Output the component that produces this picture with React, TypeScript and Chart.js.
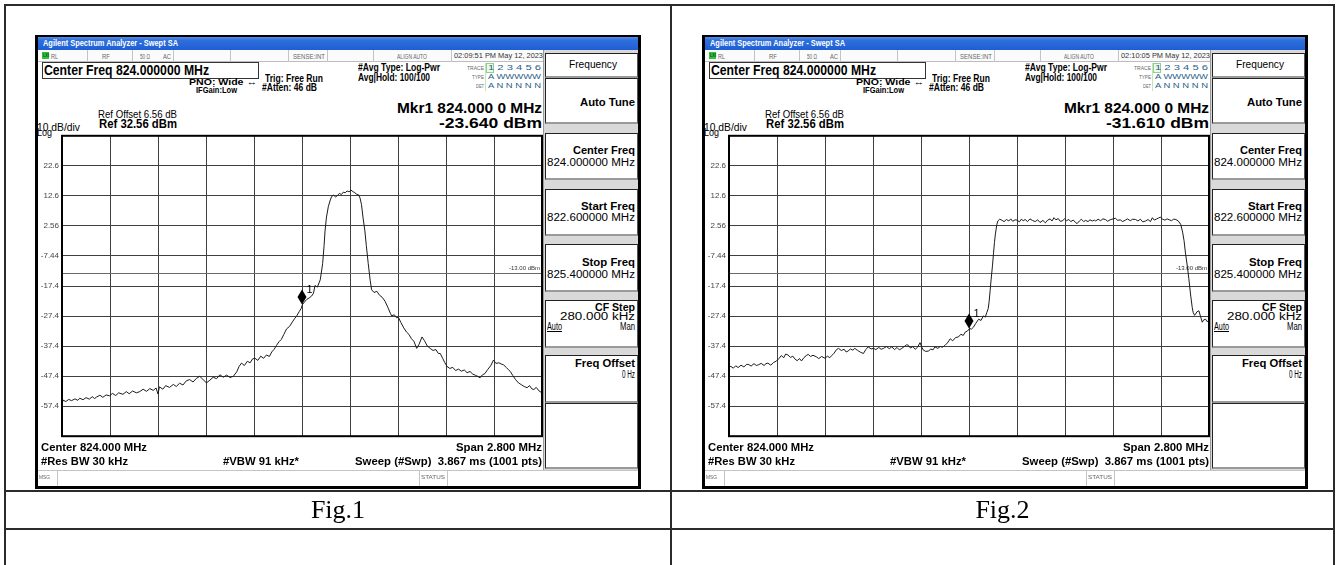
import React, { useEffect, useLayoutEffect, useRef } from "react";
import { Chart, registerables } from "chart.js";

Chart.register(...registerables);

const FONT = '"Liberation Sans", Arial, sans-serif';
const SERIF = '"Liberation Serif", "Times New Roman", serif';

// Sweep axis: trace point index (1001 pts), 10 divisions
const X_MIN = 0;
const X_MAX = 1000;
const X_DIV = 100;

// Amplitude axis
const REF_LEVEL = 32.56;
const DB_PER_DIV = 10;
const Y_DIVS = 10;
const Y_TICK_LABELS = ["22.6", "12.6", "2.56", "-7.44", "-17.4", "-27.4", "-37.4", "-47.4", "-57.4"];

const DISPLAY_LINE = -13;
const DISPLAY_LINE_LABEL = "-13.00 dBm";

// [point index, dBm]
const FIG1_TRACE: [number, number][] = [
  [0, -55.8], [2, -55.4], [8, -55.9], [14, -55.2], [20, -55.6], [27, -55.0], [33, -55.5], [37, -54.8], [44, -55.3], [50, -54.6],
  [57, -55.1], [63, -54.3], [68, -54.9], [72, -54.4], [79, -53.8], [85, -54.5], [92, -53.7], [99, -54.0], [105, -53.2], [112, -53.9],
  [118, -53.0], [127, -53.5], [134, -52.6], [140, -53.3], [147, -52.4], [155, -53.0], [162, -52.6], [169, -51.8], [176, -52.5], [183, -51.6],
  [190, -52.2], [196, -51.4], [200, -53.4], [203, -51.0], [210, -51.8], [216, -50.6], [224, -51.2], [232, -50.2], [238, -50.9], [245, -49.8],
  [252, -50.4], [259, -49.0], [266, -48.6], [273, -49.4], [280, -48.2], [287, -47.5], [294, -48.6], [301, -49.7], [308, -48.8], [315, -47.8],
  [322, -48.3], [329, -47.0], [336, -47.8], [343, -47.1], [350, -47.9], [357, -47.5], [364, -46.0], [369, -44.2], [374, -43.1], [380, -43.9],
  [386, -42.5], [392, -43.0], [397, -41.7], [402, -41.5], [408, -42.2], [414, -40.8], [420, -41.5], [426, -40.4], [432, -40.9], [437, -39.4],
  [442, -38.5], [447, -37.2], [452, -36.0], [457, -35.2], [462, -33.6], [468, -31.7], [474, -30.9], [480, -29.4], [485, -28.2], [489, -27.4],
  [494, -26.0], [498, -25.0], [501, -23.64], [505, -22.8], [510, -21.9], [515, -21.4], [520, -20.8], [524, -19.8], [527, -17.3], [532, -17.8],
  [538, -15.4], [543, -10.0], [546, -4.0], [548, 0.9], [551, 5.5], [555, 9.1], [559, 11.2], [562, 12.4], [566, 12.8], [570, 12.2],
  [574, 12.7], [578, 13.4], [582, 13.0], [586, 13.8], [590, 13.6], [594, 14.2], [598, 13.9], [602, 14.5], [606, 14.0], [610, 13.6],
  [614, 13.1], [618, 12.9], [621, 11.8], [624, 9.6], [627, 5.5], [631, 0.9], [634, -4.0], [638, -10.0], [642, -15.5], [645, -18.7],
  [650, -19.6], [656, -19.2], [661, -20.4], [667, -21.2], [673, -22.5], [679, -24.6], [684, -26.5], [687, -27.4], [692, -27.0], [697, -28.0],
  [701, -27.9], [706, -29.6], [712, -31.4], [718, -32.8], [723, -33.6], [728, -35.0], [733, -35.8], [739, -38.2], [744, -36.8], [750, -34.4],
  [755, -35.6], [761, -37.4], [767, -38.2], [773, -38.9], [779, -38.6], [784, -39.9], [788, -39.9], [793, -41.5], [797, -42.8], [802, -44.2],
  [808, -44.9], [814, -44.5], [820, -45.6], [826, -45.1], [832, -45.8], [838, -45.4], [844, -46.3], [850, -45.9], [856, -46.8], [862, -47.2],
  [867, -47.6], [871, -48.0], [876, -47.0], [881, -46.6], [887, -45.2], [893, -44.0], [899, -42.1], [904, -43.2], [910, -43.0], [915, -43.4],
  [920, -43.7], [926, -44.6], [930, -45.3], [934, -45.9], [939, -47.2], [945, -48.6], [951, -49.7], [957, -50.3], [963, -50.9], [969, -51.3],
  [974, -50.6], [979, -51.7], [983, -51.9], [988, -51.2], [994, -52.4], [1000, -53.0],
];
const FIG1_MARKER: [number, number] = [500, -23.64];

const FIG2_TRACE: [number, number][] = [
  [0, -44.4], [4, -44.2], [9, -44.8], [14, -44.0], [19, -44.6], [25, -43.8], [31, -44.4], [36, -43.6], [40, -43.5], [46, -44.1],
  [52, -43.3], [57, -43.9], [61, -43.7], [67, -43.2], [73, -43.9], [77, -43.3], [81, -43.1], [87, -43.8], [93, -42.9], [99, -42.4],
  [104, -41.6], [109, -40.6], [114, -41.3], [118, -40.1], [123, -40.4], [128, -41.2], [133, -40.8], [137, -41.7], [142, -42.3], [147, -41.6],
  [151, -42.4], [156, -41.3], [161, -40.6], [165, -40.2], [170, -40.9], [175, -40.5], [182, -41.0], [187, -41.6], [193, -40.9], [200, -41.5],
  [205, -40.8], [210, -41.3], [214, -40.6], [219, -39.8], [224, -38.6], [228, -38.2], [234, -38.9], [240, -38.5], [244, -39.4], [248, -39.1],
  [253, -38.4], [258, -38.8], [262, -38.2], [268, -38.9], [274, -39.5], [280, -39.9], [285, -38.6], [290, -37.7], [296, -38.4], [301, -38.2],
  [306, -38.6], [312, -37.9], [317, -38.5], [322, -38.2], [328, -37.6], [334, -38.3], [339, -37.7], [345, -38.6], [350, -37.9], [355, -38.7],
  [360, -38.2], [366, -37.5], [370, -37.0], [374, -37.2], [378, -38.1], [383, -37.6], [388, -38.5], [393, -37.8], [398, -36.3], [402, -37.9],
  [405, -38.8], [410, -39.2], [416, -39.1], [420, -38.4], [425, -38.7], [429, -37.7], [435, -38.2], [440, -37.6], [445, -37.8], [450, -37.2],
  [455, -36.4], [461, -35.0], [466, -35.7], [472, -34.6], [478, -34.4], [483, -33.5], [488, -33.9], [492, -32.8], [497, -32.4], [501, -31.61],
  [505, -31.8], [509, -31.2], [514, -29.9], [520, -28.5], [525, -28.9], [530, -27.4], [534, -27.8], [537, -26.3], [540, -25.0], [542, -22.5],
  [544, -19.0], [546, -15.4], [549, -10.5], [551, -6.7], [553, -3.0], [555, -0.1], [558, 3.0], [560, 4.2], [564, 4.8], [569, 4.4],
  [573, 4.0], [578, 4.7], [583, 4.2], [587, 4.9], [591, 4.1], [596, 4.6], [600, 4.5], [605, 3.9], [609, 4.8], [613, 4.3],
  [617, 4.7], [622, 4.0], [627, 4.9], [632, 4.4], [638, 4.0], [643, 4.6], [648, 3.7], [654, 4.4], [659, 3.6], [664, 4.5],
  [669, 4.9], [673, 4.2], [677, 5.3], [681, 4.6], [686, 5.0], [690, 4.1], [694, 4.2], [699, 4.9], [703, 4.3], [708, 4.7],
  [712, 4.0], [717, 4.5], [721, 3.9], [725, 3.3], [730, 4.2], [734, 4.8], [739, 4.0], [743, 4.4], [748, 4.0], [752, 4.6],
  [757, 4.2], [761, 4.5], [764, 4.2], [769, 4.8], [774, 4.3], [779, 4.9], [784, 4.7], [789, 4.1], [794, 4.6], [800, 4.9],
  [805, 5.1], [810, 4.4], [815, 4.6], [820, 4.0], [826, 4.5], [830, 4.9], [836, 4.3], [841, 4.8], [847, 4.7], [852, 4.2],
  [857, 4.8], [862, 3.9], [868, 4.2], [873, 4.7], [878, 4.0], [882, 5.3], [886, 4.5], [891, 4.9], [895, 5.2], [899, 5.5],
  [903, 4.8], [908, 4.5], [913, 4.9], [917, 4.6], [922, 4.3], [926, 4.8], [931, 4.7], [936, 4.2], [941, 3.1], [945, 0.5],
  [948, -2.3], [951, -6.5], [955, -11.0], [958, -15.0], [962, -20.8], [965, -24.5], [967, -26.3], [970, -27.2], [972, -26.8], [975, -26.0],
  [979, -25.7], [982, -27.4], [986, -29.5], [989, -28.7], [993, -28.5], [996, -29.3], [1000, -29.0],
];
const FIG2_MARKER: [number, number] = [500, -31.61];

const FIG1_TIME = "02:09:51 PM May 12, 2023";
const FIG2_TIME = "02:10:05 PM May 12, 2023";
const FIG1_MKR = "-23.640 dBm";
const FIG2_MKR = "-31.610 dBm";

const GRID_COLOR = "#404040";

const overlayPlugin = {
  id: "saOverlay",
  beforeDatasetsDraw(chart: any) {
    const { ctx, chartArea: a, scales } = chart;
    const y = Math.round(scales.y.getPixelForValue(DISPLAY_LINE)) + 0.5;
    ctx.save();
    ctx.strokeStyle = "#6a6a6a";
    ctx.lineWidth = 1;
    ctx.beginPath();
    ctx.moveTo(a.left, y);
    ctx.lineTo(a.right, y);
    ctx.stroke();
    ctx.fillStyle = "#333";
    ctx.font = `6px ${FONT}`;
    ctx.textAlign = "right";
    ctx.textBaseline = "middle";
    ctx.fillText(DISPLAY_LINE_LABEL, a.right - 2, y - 5);
    ctx.restore();
  },
  afterDatasetsDraw(chart: any, _args: any, opts: any) {
    const { ctx, chartArea: a, scales } = chart;
    const mx = scales.x.getPixelForValue(opts.marker[0]);
    const my = scales.y.getPixelForValue(opts.marker[1]);
    ctx.save();
    ctx.fillStyle = "#000";
    ctx.beginPath();
    ctx.moveTo(mx, my);
    ctx.lineTo(mx + 4.5, my - 7.5);
    ctx.lineTo(mx, my - 15);
    ctx.lineTo(mx - 4.5, my - 7.5);
    ctx.closePath();
    ctx.fill();
    ctx.font = `11px ${FONT}`;
    ctx.textAlign = "center";
    ctx.textBaseline = "middle";
    ctx.fillText("1", mx + 7.5, my - 15);
    ctx.strokeStyle = "#000";
    ctx.lineWidth = 2;
    ctx.strokeRect(a.left, a.top, a.right - a.left, a.bottom - a.top);
    ctx.restore();
  },
};

function Spectrum({ trace, marker }: { trace: [number, number][]; marker: [number, number] }) {
  const ref = useRef<HTMLCanvasElement>(null);
  useEffect(() => {
    const yMin = REF_LEVEL - DB_PER_DIV * Y_DIVS;
    const chart = new Chart(ref.current as HTMLCanvasElement, {
      type: "line",
      data: {
        datasets: [
          {
            data: trace.map(([x, y]) => ({ x, y })),
            borderColor: "#1c1c1c",
            borderWidth: 1,
            pointRadius: 0,
            tension: 0,
            fill: false,
          },
        ],
      },
      options: {
        animation: false,
        responsive: false,
        devicePixelRatio: 1,
        events: [],
        layout: { padding: { top: 5, bottom: 5, left: 0, right: 3 } },
        plugins: {
          legend: { display: false },
          tooltip: { enabled: false },
          saOverlay: { marker },
        } as any,
        scales: {
          x: {
            type: "linear",
            min: X_MIN,
            max: X_MAX,
            ticks: { display: false, stepSize: X_DIV },
            grid: { color: GRID_COLOR, lineWidth: 1, drawTicks: false },
            border: { display: false },
            afterFit: (s: any) => {
              s.height = 0;
            },
          },
          y: {
            type: "linear",
            min: yMin,
            max: REF_LEVEL,
            afterBuildTicks: (s: any) => {
              s.ticks = Array.from({ length: Y_DIVS + 1 }, (_, k) => ({ value: yMin + k * DB_PER_DIV }));
            },
            ticks: {
              autoSkip: false,
              padding: 3,
              color: "#444",
              font: { size: 8, family: FONT },
              callback: (_v: any, k: number) => (k >= 1 && k <= 9 ? Y_TICK_LABELS[9 - k] : ""),
            },
            grid: { color: GRID_COLOR, lineWidth: 1, drawTicks: false },
            border: { display: false },
            afterFit: (s: any) => {
              s.width = 27;
            },
          },
        } as any,
      },
      plugins: [overlayPlugin as any],
    });
    return () => chart.destroy();
  }, [trace, marker]);
  return (
    <canvas
      ref={ref}
      width={510}
      height={316}
      style={{ position: "absolute", left: 0, top: 93, width: 510, height: 316 }}
    />
  );
}

type TP = {
  x: number;
  y: number;
  s: number;
  w?: number;
  b?: boolean;
  c?: string;
  f?: string;
  u?: boolean;
  children: React.ReactNode;
};

function Txt({ x, y, s, w, b, c = "#000", f = FONT, u, children }: TP) {
  const ref = useRef<HTMLSpanElement>(null);
  useLayoutEffect(() => {
    const el = ref.current;
    if (!el || !w) return;
    el.style.transform = "none";
    const n = el.getBoundingClientRect().width;
    if (n > 0) el.style.transform = `scaleX(${w / n})`;
  });
  return (
    <span
      ref={ref}
      style={{
        position: "absolute",
        left: x,
        top: y - s / 2,
        fontSize: s,
        lineHeight: `${s}px`,
        fontFamily: f,
        fontWeight: b ? 700 : 400,
        color: c,
        whiteSpace: "nowrap",
        transformOrigin: "0 50%",
        textDecoration: u ? "underline" : "none",
      }}
    >
      {children}
    </span>
  );
}

function Box({ l, t, w, h, style }: { l: number; t: number; w: number; h: number; style?: React.CSSProperties }) {
  return <div style={{ position: "absolute", left: l, top: t, width: w, height: h, boxSizing: "border-box", ...style }} />;
}

const STATUS_SEPS = [52, 97, 138, 195, 253, 292, 338, 416];

function PanelButton({ t, h }: { t: number; h: number }) {
  return (
    <Box
      l={510}
      t={t}
      w={93}
      h={h}
      style={{
        background: "#fff",
        borderLeft: "1px solid #222",
        borderTop: "1px solid #222",
        borderRight: "1px solid #555",
        borderBottom: "2px solid #9a9a9a",
      }}
    />
  );
}

function Screen({
  left,
  trace,
  marker,
  time,
  mkr,
}: {
  left: number;
  trace: [number, number][];
  marker: [number, number];
  time: string;
  mkr: string;
}) {
  const gray = "#666";
  return (
    <div
      style={{
        position: "absolute",
        left,
        top: 35,
        width: 606,
        height: 454,
        background: "#fff",
        overflow: "hidden",
      }}
    >
      {/* title bar */}
      <Box l={0} t={0} w={606} h={15} style={{ background: "linear-gradient(180deg,#6aa2f0 0%,#2f6fdc 35%,#1e5ed4 100%)" }} />
      <Txt x={8} y={8.5} s={9} b c="#fff" w={135}>
        Agilent Spectrum Analyzer - Swept SA
      </Txt>
      {/* status row */}
      <Box l={0} t={15} w={509} h={12} style={{ background: "#fbfbfb", borderBottom: "1px solid #bdbdbd" }} />
      {STATUS_SEPS.map((sx) => (
        <Box key={sx} l={sx} t={15} w={1} h={12} style={{ background: "#c4c4c4" }} />
      ))}
      <Box l={7} t={17} w={7} h={7} style={{ background: "#35c035" }} />
      <Txt x={7.5} y={20.5} s={5} b c="#053" w={6}>
        LXI
      </Txt>
      <Txt x={16} y={21} s={7} c={gray} w={7}>
        RL
      </Txt>
      <Txt x={67} y={21} s={7} c={gray} w={8}>
        RF
      </Txt>
      <Txt x={105} y={21} s={7} c={gray} w={10}>
        50 Ω
      </Txt>
      <Txt x={128} y={21} s={7} c={gray} w={8}>
        AC
      </Txt>
      <Txt x={258} y={21} s={7} c={gray} w={32}>
        SENSE:INT
      </Txt>
      <Txt x={362} y={21} s={7} c={gray} w={30}>
        ALIGN AUTO
      </Txt>
      <Txt x={419} y={21} s={7.5} c="#333" w={89}>
        {time}
      </Txt>
      {/* header */}
      <Box l={7} t={27} w={217} h={17} style={{ border: "1px solid #333" }} />
      <Txt x={9} y={35} s={14} b w={165}>
        Center Freq 824.000000 MHz
      </Txt>
      <Txt x={154} y={47} s={9} b w={68}>
        PNO: Wide ↔
      </Txt>
      <Txt x={161} y={55} s={9} b w={41}>
        IFGain:Low
      </Txt>
      <Txt x={230} y={44} s={10} b w={58}>
        Trig: Free Run
      </Txt>
      <Txt x={227} y={53} s={10} b w={55}>
        #Atten: 46 dB
      </Txt>
      <Txt x={323} y={33} s={10} b w={82}>
        #Avg Type: Log-Pwr
      </Txt>
      <Txt x={323} y={43} s={10} b w={72}>
        Avg|Hold: 100/100
      </Txt>
      <Txt x={432} y={33} s={6} c={gray} w={17}>
        TRACE
      </Txt>
      <Txt x={437} y={42} s={6} c={gray} w={12}>
        TYPE
      </Txt>
      <Txt x={441} y={51} s={6} c={gray} w={8}>
        DET
      </Txt>
      <Box l={450} t={28} w={1} h={28} style={{ background: "#bfe6bf" }} />
      <Box l={451} t={28} w={8} h={10} style={{ border: "1px solid #8fd08f", background: "#eef9ea" }} />
      <Txt x={453} y={33} s={8} c="#2a5f8a" w={53}>
        1 2 3 4 5 6
      </Txt>
      <Txt x={453} y={42} s={7.5} c="#2a5f8a" w={53}>
        A WWWWW
      </Txt>
      <Txt x={453} y={51} s={7.5} c="#2a5f8a" w={53}>
        A N N N N N
      </Txt>
      <Txt x={362} y={72} s={15} b w={145}>
        Mkr1 824.000 0 MHz
      </Txt>
      <Txt x={404} y={87} s={15} b w={103}>
        {mkr}
      </Txt>
      <Txt x={63} y={79} s={11} w={79}>
        Ref Offset 6.56 dB
      </Txt>
      <Txt x={64} y={88} s={13} b w={78}>
        Ref 32.56 dBm
      </Txt>
      <Txt x={2} y={92} s={11} w={43}>
        10 dB/div
      </Txt>
      <Txt x={2} y={97.5} s={11} w={15}>
        Log
      </Txt>
      {/* plot */}
      <Spectrum trace={trace} marker={marker} />
      {/* footer */}
      <Txt x={6} y={412} s={11} b w={106}>
        Center 824.000 MHz
      </Txt>
      <Txt x={6} y={426} s={11} b w={87}>
        #Res BW 30 kHz
      </Txt>
      <Txt x={188} y={426} s={11} b w={76}>
        #VBW 91 kHz*
      </Txt>
      <Txt x={421} y={412} s={11} b w={86}>
        Span 2.800 MHz
      </Txt>
      <Txt x={320} y={426} s={11} b w={187}>
        Sweep (#Swp)&nbsp;&nbsp;3.867 ms (1001 pts)
      </Txt>
      {/* right panel */}
      <Box l={508} t={15} w={98} h={420} style={{ background: "#d9d9d9", borderLeft: "1px solid #9a9a9a" }} />
      <PanelButton t={18} h={25} />
      <PanelButton t={43} h={46} />
      <PanelButton t={98} h={47} />
      <PanelButton t={154} h={47} />
      <PanelButton t={209} h={48} />
      <PanelButton t={265} h={48} />
      <PanelButton t={320} h={48} />
      <PanelButton t={368} h={66} />
      <Txt x={534} y={30} s={10} w={48}>
        Frequency
      </Txt>
      <Txt x={545} y={67} s={11} b w={55}>
        Auto Tune
      </Txt>
      <Txt x={538} y={115} s={11} b w={62}>
        Center Freq
      </Txt>
      <Txt x={512} y={128} s={10} w={88}>
        824.000000 MHz
      </Txt>
      <Txt x={546} y={171} s={11} b w={54}>
        Start Freq
      </Txt>
      <Txt x={512} y={183} s={10} w={88}>
        822.600000 MHz
      </Txt>
      <Txt x={547} y={227} s={11} b w={53}>
        Stop Freq
      </Txt>
      <Txt x={512} y={240} s={10} w={88}>
        825.400000 MHz
      </Txt>
      <Txt x={560} y={272} s={11} b w={40}>
        CF Step
      </Txt>
      <Txt x={525} y={282} s={10} w={75}>
        280.000 kHz
      </Txt>
      <Txt x={512} y={292} s={10} w={15} u>
        Auto
      </Txt>
      <Txt x={585} y={292} s={10} w={15}>
        Man
      </Txt>
      <Txt x={540} y={328} s={11} b w={60}>
        Freq Offset
      </Txt>
      <Txt x={587} y={340} s={10} w={13}>
        0 Hz
      </Txt>
      {/* message row */}
      <Box l={0} t={435} w={606} h={19} style={{ borderTop: "1px solid #c4c4c4", background: "#fff" }} />
      <Box l={22} t={436} w={1} h={18} style={{ background: "#c4c4c4" }} />
      <Box l={384} t={436} w={1} h={18} style={{ background: "#c4c4c4" }} />
      <Box l={412} t={436} w={1} h={18} style={{ background: "#c4c4c4" }} />
      <Txt x={4} y={443} s={5.5} c={gray} w={11}>
        MSG
      </Txt>
      <Txt x={386} y={443} s={5.5} c={gray} w={24}>
        STATUS
      </Txt>
      {/* outer frame */}
      <Box l={0} t={0} w={606} h={454} style={{ border: "3px solid #000", borderTopWidth: 2 }} />
    </div>
  );
}

function Line({ l, t, w, h }: { l: number; t: number; w: number; h: number }) {
  return <div style={{ position: "absolute", left: l, top: t, width: w, height: h, background: "#2b2b2b" }} />;
}

export default function App() {
  return (
    <div
      style={{
        position: "fixed",
        left: 0,
        top: 0,
        width: 1338,
        height: 565,
        background: "#fff",
        overflow: "hidden",
      }}
    >
      {/* table grid */}
      <Line l={4} t={4} w={1331} h={2} />
      <Line l={4} t={4} w={2} h={561} />
      <Line l={670} t={4} w={2} h={561} />
      <Line l={1333} t={4} w={2} h={561} />
      <Line l={4} t={490} w={1331} h={2} />
      <Line l={4} t={528} w={1331} h={2} />

      <Screen left={35} trace={FIG1_TRACE} marker={FIG1_MARKER} time={FIG1_TIME} mkr={FIG1_MKR} />
      <Screen left={702} trace={FIG2_TRACE} marker={FIG2_MARKER} time={FIG2_TIME} mkr={FIG2_MKR} />

      <div
        style={{
          position: "absolute",
          left: 6,
          top: 492,
          width: 664,
          height: 36,
          lineHeight: "36px",
          textAlign: "center",
          fontFamily: SERIF,
          fontSize: 26,
          color: "#000",
        }}
      >
        Fig.1
      </div>
      <div
        style={{
          position: "absolute",
          left: 672,
          top: 492,
          width: 661,
          height: 36,
          lineHeight: "36px",
          textAlign: "center",
          fontFamily: SERIF,
          fontSize: 26,
          color: "#000",
        }}
      >
        Fig.2
      </div>
    </div>
  );
}
